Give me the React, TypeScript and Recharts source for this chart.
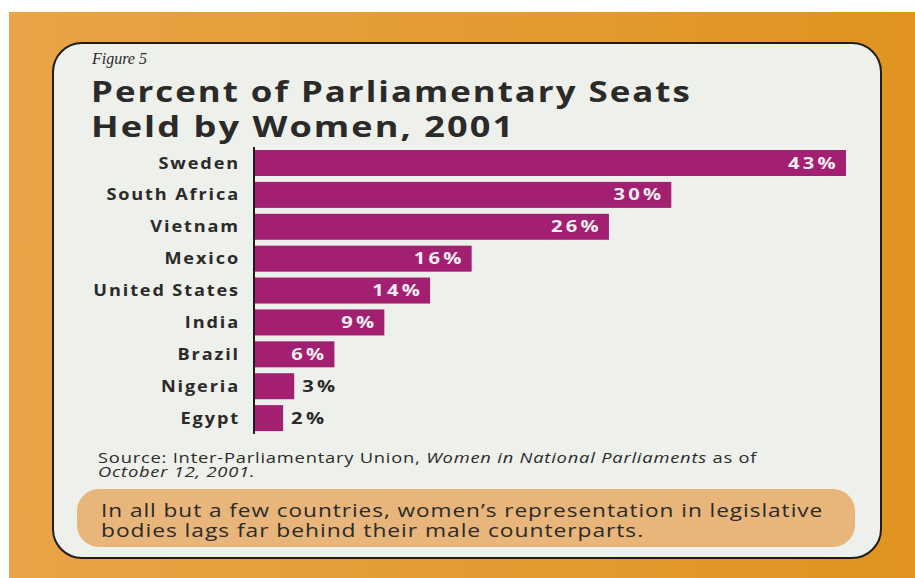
import { Bar, BarChart, XAxis, YAxis } from 'recharts'

const countries = ['Sweden', 'South Africa', 'Vietnam', 'Mexico', 'United States', 'India', 'Brazil', 'Nigeria', 'Egypt']
// bar lengths as drawn in the figure (the print is not exact), plus the printed labels
const barLength = [42.7, 30.1, 25.6, 15.7, 12.7, 9.4, 5.8, 2.9, 2.1]
const printedPct = ['43%', '30%', '26%', '16%', '14%', '9%', '6%', '3%', '2%']

const rows = countries.map((country, i) => ({ country, pct: barLength[i], label: printedPct[i] }))

const BAR = '#a21f72'
const INK = '#2b2a28'
const SANS = '"Open Sans", "Noto Sans", sans-serif'

// the scan is stretched sideways, so text gets a horizontal scale
const wide = (x: number, y: number, s: number) => `translate(${x},${y}) scale(${s},1)`

// bar + its % label; short bars carry the label outside in dark ink
function LabeledBar(props: any) {
  const { x, y, width, height, payload } = props
  const inside = payload.pct >= 5
  return (
    <g>
      <rect x={x} y={y} width={width} height={height} fill={BAR} />
      <text
        transform={wide(inside ? x + width - 7 : x + width + 8, y + height / 2, 1.3)}
        dy="0.36em"
        textAnchor={inside ? 'end' : 'start'}
        fill={inside ? '#f7eef4' : INK}
        fontFamily={SANS}
        fontWeight={700}
        fontSize={15.5}
        letterSpacing={2.5}
      >
        {payload.label}
      </text>
    </g>
  )
}

function CountryTick(props: any) {
  const { x, y, payload } = props
  return (
    <text
      transform={wide(x, y, 1.17)}
      dy="0.36em"
      textAnchor="end"
      fill={INK}
      fontFamily={SANS}
      fontWeight={700}
      fontSize={15.5}
      letterSpacing={1.6}
    >
      {payload.value}
    </text>
  )
}

export default function App() {
  return (
    <div style={{ position: 'absolute', left: 0, top: 0, width: 915, height: 578, background: '#fff', overflow: 'hidden' }}>
      <div style={{ position: 'absolute', left: 9, top: 12, right: 0, bottom: 0, background: 'linear-gradient(90deg, #e8a446 0%, #e39c34 50%, #e0931f 100%)' }} />
      <div
        style={{
          position: 'absolute', left: 52, top: 42, width: 830, height: 517, boxSizing: 'border-box',
          border: '2.5px solid #1f1d1a', borderRadius: 30, background: '#eef0ec',
        }}
      />
      <div style={{ position: 'absolute', left: 77, top: 489, width: 778, height: 58, borderRadius: 22, background: '#e8b57b' }} />

      <svg width={915} height={578} style={{ position: 'absolute', left: 0, top: 0 }}>
        <text x={92} y={64} fontFamily='"Liberation Serif", serif' fontStyle="italic" fontSize={16} fill={INK}>Figure 5</text>
        <g fontFamily={SANS} fontWeight={700} fontSize={28} letterSpacing={1.6} fill={INK}>
          <text transform={wide(91, 102, 1.245)}>Percent of Parliamentary Seats</text>
          <text transform={wide(91, 137, 1.29)}>Held by Women, 2001</text>
        </g>
        <g fontFamily={SANS} fontSize={14} letterSpacing={0.6} fill={INK}>
          <text transform={wide(98, 463, 1.31)}>
            Source: Inter-Parliamentary Union, <tspan fontStyle="italic">Women in National Parliaments</tspan> as of
          </text>
          <text transform={wide(98, 477, 1.31)} fontStyle="italic">October 12, 2001.</text>
        </g>
        <g fontFamily={SANS} fontSize={19} letterSpacing={0.8} fill={INK}>
          <text transform={wide(101, 517, 1.19)}>In all but a few countries, women’s representation in legislative</text>
          <text transform={wide(101, 537, 1.2)}>bodies lags far behind their male counterparts.</text>
        </g>
      </svg>

      <div style={{ position: 'absolute', left: 0, top: 147 }}>
        <BarChart
          width={915}
          height={287}
          data={rows}
          layout="vertical"
          margin={{ top: 0, right: 69, bottom: 0, left: 0 }}
        >
          <XAxis type="number" domain={[0, 42.7]} hide />
          <YAxis
            type="category"
            dataKey="country"
            width={254}
            axisLine={{ stroke: '#1f1d1a', strokeWidth: 2 }}
            tickLine={false}
            tickSize={0}
            tickMargin={14}
            tick={CountryTick}
          />
          <Bar dataKey="pct" fill={BAR} barSize={26} shape={LabeledBar} isAnimationActive={false} />
        </BarChart>
      </div>
    </div>
  )
}
